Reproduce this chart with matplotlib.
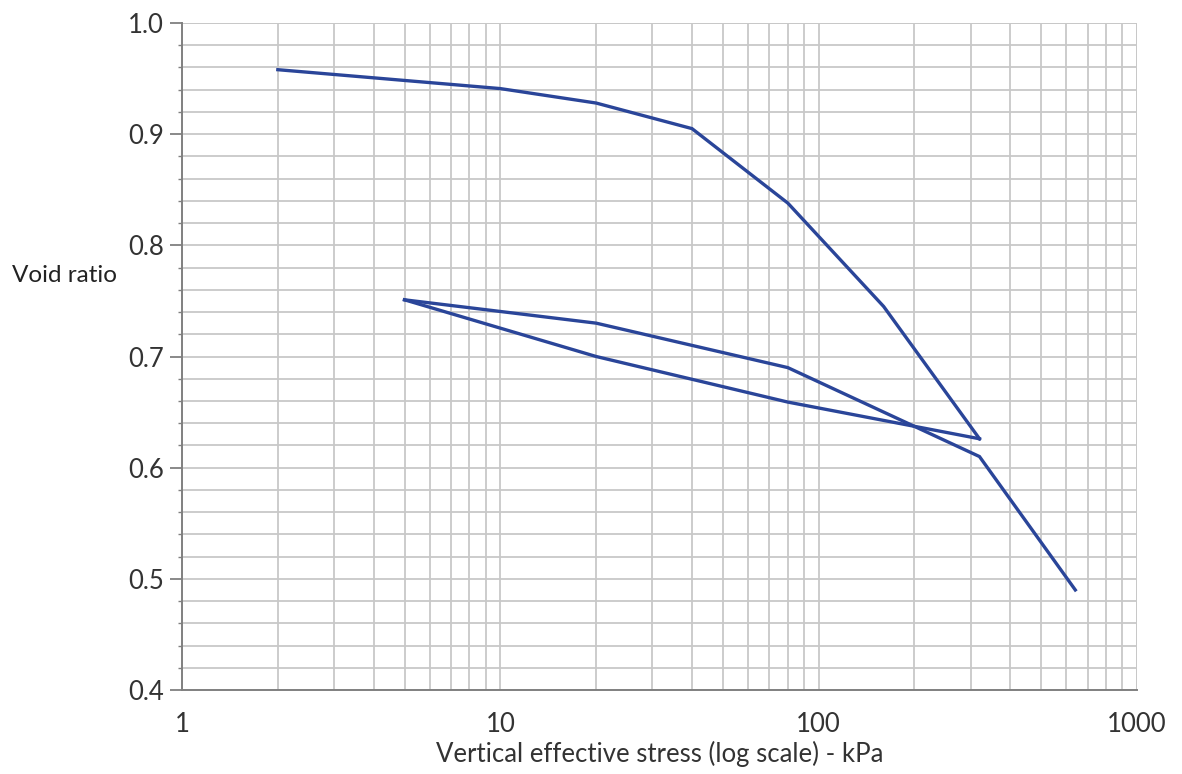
import matplotlib
matplotlib.use("Agg")
import matplotlib.pyplot as plt
from matplotlib.ticker import FixedLocator, MultipleLocator, LogLocator, NullFormatter

# Data: oedometer test, void ratio vs vertical effective stress
stress_load = [2, 10, 20, 40, 80, 160, 320]
void_load = [0.958, 0.941, 0.928, 0.905, 0.838, 0.745, 0.626]

stress_unload = [320, 80, 20, 5]
void_unload = [0.626, 0.659, 0.700, 0.751]

stress_reload = [5, 20, 80, 320, 640]
void_reload = [0.751, 0.730, 0.690, 0.610, 0.490]

x_ticks = [1, 10, 100, 1000]
x_tick_labels = ["1", "10", "100", "1000"]
y_ticks = [0.4, 0.5, 0.6, 0.7, 0.8, 0.9, 1.0]

plt.rcParams['font.family'] = ['Lato', 'DejaVu Sans']

fig = plt.figure(figsize=(11.82, 7.74), dpi=100)
ax = fig.add_axes([182/1182, 1-690/774, (1137-182)/1182, (690-23)/774])

color = '#2a4599'
lw = 2.4
ax.plot(stress_load, void_load, color=color, lw=lw, solid_joinstyle='miter', zorder=3)
ax.plot(stress_unload, void_unload, color=color, lw=lw, solid_joinstyle='miter', zorder=3)
ax.plot(stress_reload, void_reload, color=color, lw=lw, solid_joinstyle='miter', zorder=3)

ax.set_xscale('log')
ax.set_xlim(1, 1000)
ax.set_ylim(0.4, 1.0)

ax.xaxis.set_major_locator(FixedLocator(x_ticks))
ax.set_xticklabels(x_tick_labels)
ax.xaxis.set_minor_locator(LogLocator(base=10, subs=range(2, 10)))
ax.xaxis.set_minor_formatter(NullFormatter())
ax.yaxis.set_major_locator(FixedLocator(y_ticks))
ax.yaxis.set_major_formatter(matplotlib.ticker.FormatStrFormatter('%.1f'))
ax.yaxis.set_minor_locator(MultipleLocator(0.02))

gc = '#c8c8c8'
ax.grid(True, which='both', color=gc, lw=1.3)
ax.set_axisbelow(True)

for s in ['top', 'right']:
    ax.spines[s].set_visible(False)
for s in ['left', 'bottom']:
    ax.spines[s].set_color('#808080')
    ax.spines[s].set_linewidth(1.4)
ax.axvline(1000, color=gc, lw=1.3, zorder=0)
ax.axhline(1.0, color=gc, lw=1.3, zorder=0)

ax.tick_params(axis='x', which='both', length=0, pad=16, labelsize=18.5, labelcolor='#333333')
ax.tick_params(axis='y', which='major', length=9, width=1.3, color='#808080', pad=4, labelsize=18.5, labelcolor='#333333')
ax.tick_params(axis='y', which='minor', length=3, width=1.0, color='#808080')

ax.set_xlabel('Vertical effective stress (log scale) - kPa', fontsize=18.5, color='#333333', labelpad=3)
fig.text(12/1182, 1-275/774, 'Void ratio', fontsize=17.5, color='#222222', ha='left', va='center')

fig.savefig('out.png', dpi=100)
